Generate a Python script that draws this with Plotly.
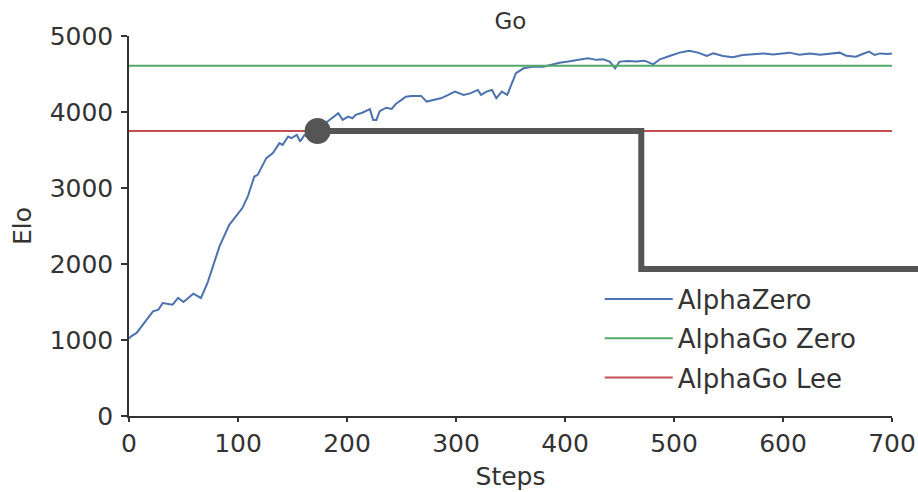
import plotly.graph_objects as go

# ---- data ----
steps = [0, 2, 7, 22, 27, 31, 40, 45, 50, 59, 66, 72, 77, 83, 92, 100, 104, 109, 115, 118,
         126, 132, 138, 141, 146, 149, 154, 157, 161, 166, 170, 174, 178, 184, 192, 196, 201,
         205, 208, 214, 221, 224, 227, 230, 236, 241, 245, 250, 254, 259, 268, 273, 280, 286,
         293, 299, 307, 313, 320, 323, 328, 333, 337, 342, 347, 351, 355, 362, 371, 380, 386,
         395, 403, 414, 421, 429, 435, 441, 446, 450, 458, 465, 473, 481, 487, 496, 505, 514,
         522, 530, 536, 545, 554, 563, 573, 582, 591, 600, 606, 615, 625, 634, 643, 652, 658,
         667, 673, 679, 684, 689, 696, 700]
alphazero_elo = [1020, 1049, 1093, 1377, 1400, 1487, 1465, 1553, 1500, 1610, 1553, 1750, 1969,
                 2231, 2516, 2670, 2736, 2889, 3151, 3173, 3393, 3459, 3590, 3568, 3677, 3655,
                 3699, 3611, 3699, 3650, 3720, 3780, 3830, 3896, 3984, 3896, 3940, 3918, 3962,
                 3990, 4037, 3896, 3896, 4010, 4056, 4040, 4108, 4159, 4202, 4212, 4212, 4137,
                 4159, 4180, 4225, 4268, 4225, 4245, 4290, 4225, 4268, 4290, 4181, 4268, 4225,
                 4356, 4510, 4575, 4597, 4597, 4619, 4649, 4663, 4693, 4707, 4686, 4693, 4663,
                 4575, 4663, 4670, 4663, 4675, 4627, 4693, 4737, 4781, 4807, 4781, 4737, 4771,
                 4737, 4720, 4750, 4763, 4771, 4758, 4771, 4781, 4754, 4771, 4754, 4771, 4781,
                 4741, 4728, 4763, 4794, 4750, 4771, 4763, 4770]
alphago_zero_elo = 4610
alphago_lee_elo = 3750
x_range = [0, 700]
y_range = [0, 5000]
x_ticks = [0, 100, 200, 300, 400, 500, 600, 700]
y_ticks = [0, 1000, 2000, 3000, 4000, 5000]

# callout (highlight) path
callout_step = 173
callout_elo = alphago_lee_elo
callout_corner_step = 470
callout_low_elo = 1934

FONT = "DejaVu Sans"
TXT = "#333333"
GRAY = "#555555"

fig = go.Figure()
fig.add_trace(go.Scatter(x=steps, y=alphazero_elo, mode="lines", name="AlphaZero", legendgroup="a",
                         line=dict(color="#4c72b0", width=2)))
fig.add_trace(go.Scatter(x=x_range, y=[alphago_zero_elo] * 2, mode="lines", name="AlphaGo Zero",
                         legendgroup="b", line=dict(color="#55a868", width=2)))
fig.add_trace(go.Scatter(x=x_range, y=[alphago_lee_elo] * 2, mode="lines", name="AlphaGo Lee",
                         legendgroup="c", line=dict(color="#c44e52", width=2)))

span = x_range[1] - x_range[0]
px0 = (callout_step - x_range[0]) / span
px1 = (callout_corner_step - x_range[0]) / span
fig.add_shape(type="path", xref="paper", yref="y", layer="above",
              path=f"M {px0},{callout_elo} L {px1},{callout_elo} L {px1},{callout_low_elo} L 1.2,{callout_low_elo}",
              line=dict(color=GRAY, width=6))
fig.add_trace(go.Scatter(x=[callout_step], y=[callout_elo], mode="markers", showlegend=False,
                         marker=dict(color=GRAY, size=26), hoverinfo="skip"))

axis_common = dict(showgrid=False, zeroline=False, showline=True, linecolor=TXT, linewidth=1.5,
                   ticks="outside", tickwidth=1.5, tickcolor=TXT, automargin=False,
                   tickfont=dict(family=FONT, size=25, color=TXT))
fig.update_xaxes(range=x_range, tickvals=x_ticks, ticklen=4,
                 title=dict(text="Steps", font=dict(family=FONT, size=25, color=TXT), standoff=11),
                 **axis_common)
fig.update_yaxes(range=y_range, tickvals=y_ticks, ticklen=6, ticklabelstandoff=3,
                 title=dict(text="Elo", font=dict(family=FONT, size=25, color=TXT), standoff=11),
                 **axis_common)

fig.update_layout(
    width=918, height=492,
    margin=dict(l=129, r=26, t=36, b=76, autoexpand=False),
    paper_bgcolor="white", plot_bgcolor="white",
    title=dict(text="Go", x=0.5, xref="paper", xanchor="center", y=0.9573, yanchor="middle",
               font=dict(family=FONT, size=23, color=TXT)),
    legend=dict(x=0.617, y=0.3695, xanchor="left", yanchor="top", bgcolor="rgba(0,0,0,0)",
                itemwidth=68, tracegroupgap=2.5,
                font=dict(family=FONT, size=26, color=TXT)),
    showlegend=True,
)

fig.write_html("out.html", config={"displayModeBar": False},
               post_script="document.body.style.margin='0';document.body.style.overflow='hidden';")
